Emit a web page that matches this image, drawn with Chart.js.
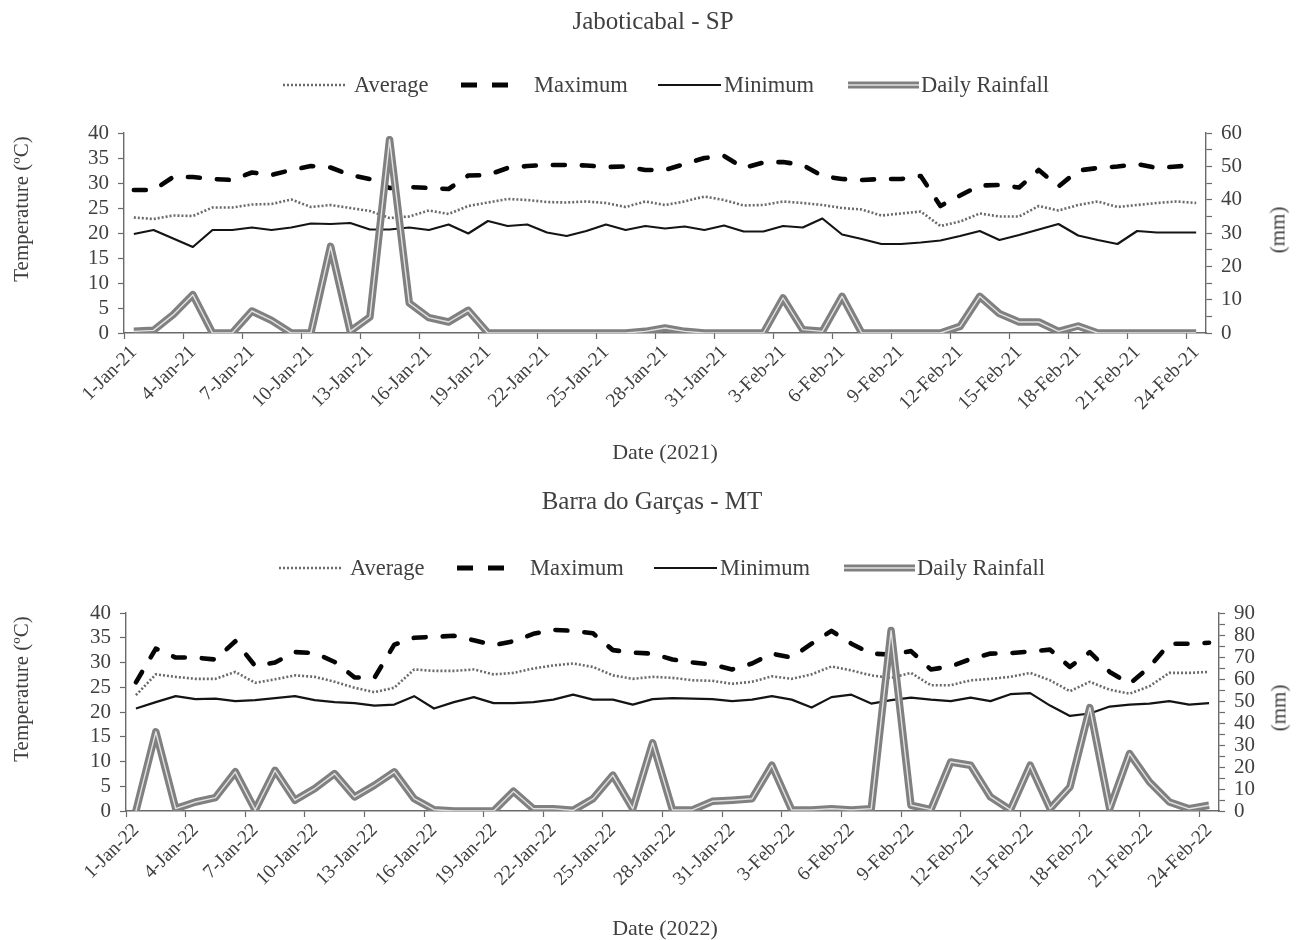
<!DOCTYPE html>
<html>
<head>
<meta charset="utf-8">
<script src="https://cdn.jsdelivr.net/npm/chart.js@4.4.1/dist/chart.umd.min.js"></script>
<style>
  html, body { margin: 0; padding: 0; background: #fff; }
  body { width: 1301px; height: 940px; position: relative; overflow: hidden;
         font-family: "Liberation Serif", "Times New Roman", serif; color: #404040; }
  canvas.cv { position: absolute; left: 0; }
  .t { position: absolute; white-space: nowrap; font-size: 21px; line-height: 1; }
  .c { transform: translate(-50%, -50%); }
  .r { transform: translate(-50%, -50%) rotate(-90deg); }
  .l { transform: translateY(-50%); }
  svg.s { position: absolute; overflow: visible; }
</style>
</head>
<body>
<canvas id="top" class="cv" width="1301" height="470" style="top:0"></canvas>
<canvas id="bot" class="cv" width="1301" height="470" style="top:470px"></canvas>
<div id="texts"></div>
<script>
// ---- categories (1 Jan .. 25 Feb) ----
const MONTHS = ['Jan', 'Feb'];
const MONTH_DAYS = [31, 28];
function dayLabels(yy) {
  const out = [];
  for (let m = 0; m < 2; m++) {
    for (let d = 1; d <= MONTH_DAYS[m]; d++) out.push(d + '-' + MONTHS[m] + '-' + yy);
  }
  return out.slice(0, 56);
}
const days2021 = dayLabels('21');
const days2022 = dayLabels('22');

// ---- Jaboticabal - SP (2021) ----
const avgJab = [23.1, 22.8, 23.5, 23.4, 25.1, 25.1, 25.7, 25.8, 26.7, 25.2, 25.6, 25.0, 24.4, 23.0, 23.3, 24.5,
  23.8, 25.4, 26.1, 26.8, 26.6, 26.2, 26.1, 26.3, 26.0, 25.2, 26.3, 25.6, 26.3, 27.3, 26.6, 25.5,
  25.6, 26.3, 26.0, 25.6, 25.0, 24.7, 23.5, 23.9, 24.3, 21.4, 22.3, 23.9, 23.3, 23.3, 25.4, 24.5,
  25.6, 26.3, 25.2, 25.6, 26.0, 26.3, 26.0, 25.0];
const maxJab = [28.6, 28.6, 31.2, 31.2, 30.8, 30.6, 32.1, 31.6, 32.6, 33.4, 33.1, 31.6, 30.8, 29.0, 29.2, 29.0,
  28.8, 31.5, 31.6, 33.0, 33.4, 33.6, 33.6, 33.5, 33.2, 33.3, 32.6, 32.6, 33.8, 35.0, 35.4, 33.0,
  34.1, 34.2, 33.6, 31.4, 30.8, 30.6, 30.8, 30.8, 31.4, 25.4, 27.5, 29.5, 29.6, 29.1, 32.6, 29.3,
  32.5, 33.0, 33.3, 33.8, 33.0, 33.3, 33.6, 33.3];
const minJab = [19.8, 20.6, 18.9, 17.2, 20.6, 20.6, 21.1, 20.6, 21.1, 21.9, 21.8, 22.0, 20.7, 20.7, 21.1, 20.6,
  21.7, 19.9, 22.4, 21.4, 21.7, 20.1, 19.4, 20.4, 21.7, 20.6, 21.4, 20.9, 21.3, 20.6, 21.5, 20.3,
  20.3, 21.4, 21.1, 22.9, 19.7, 18.8, 17.8, 17.8, 18.1, 18.5, 19.4, 20.4, 18.6, 19.6, 20.7, 21.8,
  19.5, 18.6, 17.8, 20.4, 20.1, 20.1, 20.1, 20.1];
const rainJab = [0.5, 0.8, 5.5, 11.5, 0, 0, 6.6, 3.8, 0, 0, 26, 0.5, 4.8, 58, 9.0, 4.6,
  3.3, 6.8, 0, 0, 0, 0, 0, 0, 0, 0, 0.5, 1.5, 0.5, 0, 0, 0,
  0, 10.5, 1.0, 0.5, 11, 0, 0, 0, 0, 0, 2.0, 11, 5.8, 3.3, 3.3, 0.5,
  2.1, 0, 0, 0, 0, 0, 0, 27];

// ---- Barra do Garças - MT (2022) ----
const avgBar = [23.4, 27.6, 27.1, 26.7, 26.7, 28.1, 25.9, 26.6, 27.4, 27.1, 26.1, 24.9, 24.0, 24.9, 28.6, 28.3,
  28.3, 28.6, 27.6, 27.9, 28.8, 29.4, 29.8, 29.1, 27.4, 26.7, 27.1, 26.9, 26.4, 26.3, 25.7, 26.1,
  27.2, 26.7, 27.6, 29.2, 28.4, 27.4, 26.9, 27.9, 25.4, 25.4, 26.4, 26.7, 27.1, 27.9, 26.4, 24.2,
  26.1, 24.5, 23.7, 25.2, 27.9, 27.9, 28.1, 28.1];
const maxBar = [26.0, 32.8, 31.0, 31.0, 30.6, 34.3, 29.3, 30.0, 32.1, 31.9, 30.1, 27.0, 26.9, 33.6, 35.0, 35.2,
  35.4, 34.5, 33.5, 34.3, 35.8, 36.6, 36.4, 35.9, 32.5, 32.0, 31.8, 30.6, 30.0, 29.6, 28.6, 29.8,
  31.8, 31.0, 33.8, 36.4, 33.8, 31.8, 31.6, 32.3, 28.6, 29.2, 30.7, 31.8, 31.9, 32.2, 32.6, 29.1,
  32.1, 28.1, 25.7, 29.1, 33.8, 33.8, 34.0, 34.0];
const minBar = [20.7, 22.0, 23.2, 22.6, 22.7, 22.2, 22.4, 22.8, 23.2, 22.4, 22.0, 21.8, 21.3, 21.5, 23.2, 20.7,
  22.0, 23.0, 21.8, 21.8, 22.0, 22.5, 23.5, 22.5, 22.5, 21.5, 22.6, 22.8, 22.7, 22.6, 22.2, 22.5,
  23.2, 22.5, 20.9, 23.0, 23.5, 21.7, 22.4, 22.9, 22.5, 22.2, 22.9, 22.2, 23.6, 23.8, 21.3, 19.2,
  19.7, 21.1, 21.5, 21.7, 22.2, 21.5, 21.8, 21.8];
const rainBar = [0, 36, 1.1, 4.1, 6.1, 17.8, 0.5, 18.5, 4.9, 10.2, 17.0, 6.4, 11.7, 17.8, 5.6, 0.6,
  0, 0, 0, 9.0, 1.0, 1.0, 0.3, 5.6, 16.3, 1.0, 31, 0.5, 0.5, 4.4, 4.9, 5.6,
  20.8, 0.5, 0.5, 1.0, 0.5, 1.0, 82, 2.6, 0.6, 22.3, 20.8, 6.4, 0.5, 20.8, 1.0, 10.9,
  47, 1.0, 26.1, 13.2, 4.1, 1.0, 2.6, 1.0];

// ---- axis ranges / ticks ----
const tempTicks = { min: 0, max: 40, step: 5 };
const rainTicksJab = { min: 0, max: 60, step: 5, labelEvery: 10 };
const rainTicksBar = { min: 0, max: 90, step: 5, labelEvery: 10 };
const LAST_SHOWN = 54;      // 24-Feb is the last category on the axis
const LABEL_EVERY = 3;

// ---- styling ----
const FONT = "'Liberation Serif', 'Times New Roman', serif";
const TEXT = '#404040';
const AXIS = '#6a6a6a';

function buildChart(id, labels, avg, max, min, rain, rainAxis, box) {
  return new Chart(document.getElementById(id), {
    type: 'line',
    data: {
      labels: labels,
      datasets: [
        { label: 'Daily Rainfall', data: rain, yAxisID: 'y1', borderColor: '#e2e2e2', borderWidth: 1.4, order: 0 },
        { label: 'Daily Rainfall', data: rain, yAxisID: 'y1', borderColor: '#808080', borderWidth: 7.5, order: 1 },
        { label: 'Minimum', data: min, yAxisID: 'y', borderColor: '#141414', borderWidth: 2.2, order: 2 },
        { label: 'Maximum', data: max, yAxisID: 'y', borderColor: '#050505', borderWidth: 4.6,
          borderDash: [12, 17], borderCapStyle: 'round', order: 3 },
        { label: 'Average', data: avg, yAxisID: 'y', borderColor: '#6a6a6a', borderWidth: 2.6,
          borderDash: [2, 2], order: 4 }
      ]
    },
    options: {
      responsive: false,
      animation: false,
      devicePixelRatio: 1,
      layout: { padding: { top: box.top, left: 0, right: 0, bottom: 0 } },
      plugins: { legend: { display: false }, tooltip: { enabled: false }, title: { display: false } },
      elements: {
        point: { radius: 0, hoverRadius: 0 },
        line: { tension: 0, borderJoinStyle: 'round', fill: false }
      },
      scales: {
        x: {
          type: 'category',
          offset: true,
          max: labels[LAST_SHOWN],
          z: 1,
          grid: {
            offset: true, drawOnChartArea: false, drawTicks: true, tickLength: 6, tickWidth: 1.2,
            color: 'rgba(0,0,0,0)',
            tickColor: (c) => (c.index % LABEL_EVERY === 0 ? AXIS : 'rgba(0,0,0,0)')
          },
          border: { display: true, color: AXIS, width: 1.4 },
          ticks: {
            autoSkip: false, minRotation: 45, maxRotation: 45, padding: 2, color: TEXT,
            font: { family: FONT, size: 19.5 },
            callback: function (v, i) { return i % LABEL_EVERY === 0 ? this.getLabelForValue(v) : ''; }
          },
          afterFit: (s) => { s.height = box.xh; }
        },
        y: {
          position: 'left',
          min: tempTicks.min, max: tempTicks.max,
          grid: { drawOnChartArea: false, tickLength: 6, tickWidth: 1.2, tickColor: AXIS, color: 'rgba(0,0,0,0)' },
          border: { display: true, color: AXIS, width: 1.4 },
          ticks: { autoSkip: false, stepSize: tempTicks.step, padding: 9, color: TEXT, font: { family: FONT, size: 21 } },
          afterFit: (s) => { s.width = box.left; }
        },
        y1: {
          position: 'right',
          min: rainAxis.min, max: rainAxis.max,
          grid: { drawOnChartArea: false, tickLength: 6, tickWidth: 1.2, tickColor: AXIS, color: 'rgba(0,0,0,0)' },
          border: { display: true, color: AXIS, width: 1.4 },
          ticks: {
            autoSkip: false, stepSize: rainAxis.step, padding: 9, color: TEXT, font: { family: FONT, size: 21 },
            callback: (v) => (v % rainAxis.labelEvery === 0 ? v : '')
          },
          afterFit: (s) => { s.width = box.right; }
        }
      }
    }
  });
}

buildChart('top', days2021, avgJab, maxJab, minJab, rainJab, rainTicksJab,
  { top: 133, left: 124, right: 95, xh: 137 });
buildChart('bot', days2022, avgBar, maxBar, minBar, rainBar, rainTicksBar,
  { top: 143, left: 126, right: 82, xh: 129 });

// ---- titles, axis titles and legends ----
const host = document.getElementById('texts');
function addText(txt, x, y, cls, size) {
  const d = document.createElement('div');
  d.className = 't ' + cls;
  d.textContent = txt;
  d.style.left = x + 'px';
  d.style.top = y + 'px';
  if (size) d.style.fontSize = size + 'px';
  host.appendChild(d);
}
function addSample(kind, x0, x1, y) {
  const w = x1 - x0;
  const ns = 'http://www.w3.org/2000/svg';
  const svg = document.createElementNS(ns, 'svg');
  svg.setAttribute('class', 's');
  svg.setAttribute('width', w);
  svg.setAttribute('height', 12);
  svg.style.left = x0 + 'px';
  svg.style.top = (y - 6) + 'px';
  const line = (color, width, dash) => {
    const l = document.createElementNS(ns, 'line');
    l.setAttribute('x1', 0); l.setAttribute('x2', w);
    l.setAttribute('y1', 6); l.setAttribute('y2', 6);
    l.setAttribute('stroke', color);
    l.setAttribute('stroke-width', width);
    if (dash) l.setAttribute('stroke-dasharray', dash);
    svg.appendChild(l);
  };
  if (kind === 'avg') line('#6a6a6a', 2.4, '2 2');
  if (kind === 'max') line('#050505', 5, '16 15');
  if (kind === 'min') line('#141414', 2.2);
  if (kind === 'rain') { line('#808080', 7); line('#e2e2e2', 1.4); }
  host.appendChild(svg);
}
function addLegend(y, dx) {
  addSample('avg', 283 + dx, 347 + dx, y);
  addText('Average', 354 + dx, y, 'l', 22.5);
  addSample('max', 461 + dx, 510 + dx, y);
  addText('Maximum', 534 + dx, y, 'l', 22.5);
  addSample('min', 658 + dx, 721 + dx, y);
  addText('Minimum', 724 + dx, y, 'l', 22.5);
  addSample('rain', 848 + dx, 919 + dx, y);
  addText('Daily Rainfall', 921 + dx, y, 'l', 22.5);
}

addText('Jaboticabal - SP', 653, 20, 'c', 25);
addLegend(85, 0);
addText('Temperature (ºC)', 21, 209, 'r');
addText('(mm)', 1278, 230, 'r');
addText('Date (2021)', 665, 452, 'c', 22);

addText('Barra do Garças - MT', 652, 500, 'c', 25);
addLegend(568, -4);
addText('Temperature (ºC)', 21, 689, 'r');
addText('(mm)', 1279, 708, 'r');
addText('Date (2022)', 665, 928, 'c', 22);
</script>
</body>
</html>
